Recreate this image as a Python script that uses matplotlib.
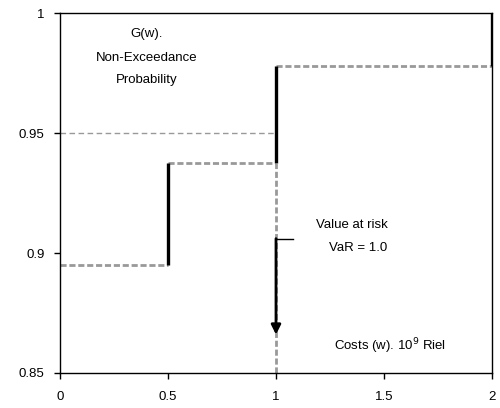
import matplotlib.pyplot as plt

# step function G(w): cost levels and non-exceedance probabilities
step_x = [0.0, 0.5, 1.0, 2.0]
step_p = [0.895, 0.9375, 0.978, 1.0]

var_level = 0.95
var_value = 1.0

x_ticks = [0, 0.5, 1, 1.5, 2]
x_labels = ["0", "0.5", "1", "1.5", "2"]
y_ticks = [0.85, 0.9, 0.95, 1.0]
y_labels = ["0.85", "0.9", "0.95", "1"]

plt.rcParams["font.family"] = ["Liberation Sans", "DejaVu Sans"]

fig = plt.figure(figsize=(5, 4.08), dpi=100)
ax = fig.add_axes([0.12, 0.0858, 0.864, 0.882])

gray = "#999999"
fs = 9.5

# horizontal dashed treads
for i in range(len(step_x) - 1):
    ax.plot([step_x[i], step_x[i + 1]], [step_p[i], step_p[i]],
            color=gray, lw=2, ls=(0, (2.2, 1.0)))
# solid vertical risers
for i in range(1, len(step_x)):
    ax.plot([step_x[i], step_x[i]], [step_p[i - 1], step_p[i]],
            color="black", lw=2.4, solid_capstyle="butt")

# 0.95 level line and VaR drop
ax.plot([0, var_value], [var_level, var_level], color=gray, lw=1, ls=(0, (4, 2.5)))
ax.plot([var_value, var_value], [0.85, step_p[1]], color=gray, lw=2, ls=(0, (2.2, 1.0)))

# arrow for value at risk
ax.plot([var_value, 1.08], [0.906, 0.906], color="black", lw=1)
ax.annotate("", xy=(var_value, 0.866), xytext=(var_value, 0.906),
            arrowprops=dict(arrowstyle="-|>", color="black", lw=2,
                            mutation_scale=14, shrinkA=0, shrinkB=0))

ax.text(1.35, 0.9117, "Value at risk", ha="center", va="center", fontsize=fs)
ax.text(1.38, 0.902, "VaR = 1.0", ha="center", va="center", fontsize=fs)
ax.text(1.53, 0.861, "Costs (w). 10$^9$ Riel", ha="center", va="center", fontsize=fs)
ax.text(0.40, 0.9915, "G(w).", ha="center", va="center", fontsize=fs)
ax.text(0.40, 0.9815, "Non-Exceedance", ha="center", va="center", fontsize=fs)
ax.text(0.40, 0.9723, "Probability", ha="center", va="center", fontsize=fs)

ax.set_xlim(0, 2)
ax.set_ylim(0.85, 1.0)
ax.set_xticks(x_ticks)
ax.set_xticklabels(x_labels)
ax.set_yticks(y_ticks)
ax.set_yticklabels(y_labels)
ax.tick_params(axis="both", direction="out", length=4, width=1, labelsize=fs)
ax.tick_params(axis="y", pad=7)
ax.tick_params(axis="x", pad=9)
for s in ax.spines.values():
    s.set_linewidth(1)
    s.set_color("black")

fig.savefig("out.png", dpi=100)
